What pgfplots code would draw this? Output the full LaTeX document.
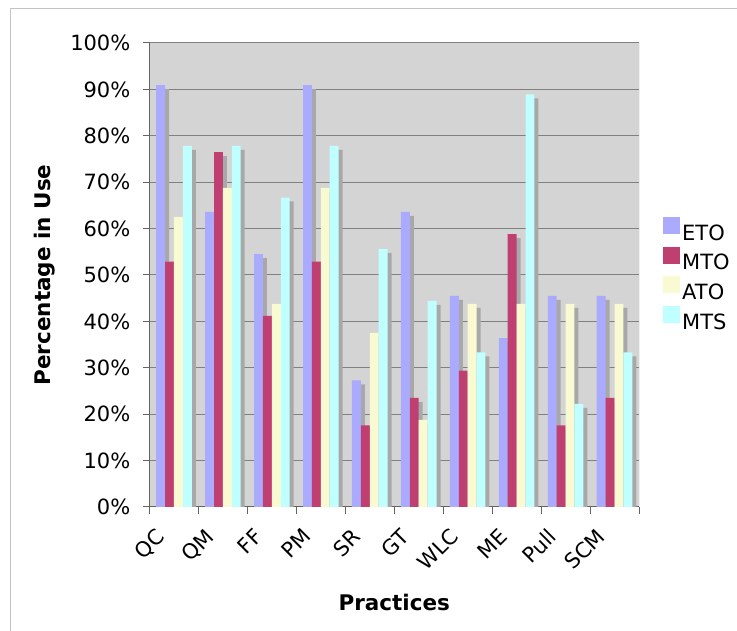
\documentclass[border=0pt]{standalone}
\usepackage{pgfplots}
\pgfplotsset{compat=1.18}
\usepackage{pgfplotstable}
\usepackage{fontspec}
\setmainfont{DejaVu Sans}
\newcommand\chartfont{\fontsize{21bp}{25bp}\selectfont}
\newcommand\labelfont{\fontsize{21.5bp}{25bp}\selectfont\bfseries}
\definecolor{cETO}{RGB}{170,170,255}
\definecolor{cMTO}{RGB}{191,64,112}
\definecolor{cATO}{RGB}{250,250,210}
\definecolor{cMTS}{RGB}{192,255,255}
\definecolor{cShadow}{RGB}{168,168,168}
\definecolor{cBg}{RGB}{212,212,212}
\definecolor{cGrid}{RGB}{128,128,128}
\definecolor{cAxis}{RGB}{100,100,100}
\definecolor{cFrame}{RGB}{195,195,195}

\pgfplotstableread{
x ETO MTO ATO MTS
0 90.9 52.9 62.5 77.8
1 63.6 76.5 68.75 77.8
2 54.5 41.2 43.75 66.7
3 90.9 52.9 68.75 77.8
4 27.3 17.6 37.5 55.6
5 63.6 23.5 18.75 44.4
6 45.5 29.4 43.75 33.3
7 36.4 58.8 43.75 88.9
8 45.5 17.6 43.75 22.2
9 45.5 23.5 43.75 33.3
}\datatable

\begin{document}
\begin{tikzpicture}[x=1bp,y=1bp]
\useasboundingbox (0,0) rectangle (737,631);
\draw[line width=1bp, cFrame] (10,0) -- (10,622) -- (737,622);
\begin{axis}[
  at={(149.5bp,124bp)}, anchor=south west,
  scale only axis, width=489.5bp, height=464bp,
  xmin=-0.5, xmax=9.5, ymin=0, ymax=100,
  axis background/.style={fill=cBg},
  axis x line*=bottom, axis y line*=left,
  axis line style={draw=cAxis, line width=1bp},
  ymajorgrids, grid style={draw=cGrid, line width=1bp},
  tick align=outside,
  major tick length=7bp, minor tick length=7bp,
  tick style={draw=cAxis, line width=1bp},
  major x tick style={draw=none},
  xtick={0,...,9},
  xticklabels={QC,QM,FF,PM,SR,GT,WLC,ME,Pull,SCM},
  minor xtick={-0.5,0.5,...,9.5},
  ytick={0,10,...,100},
  yticklabels={0\%,10\%,20\%,30\%,40\%,50\%,60\%,70\%,80\%,90\%,100\%},
  ticklabel style={font=\chartfont},
  xticklabel style={xshift=-19bp, yshift=-13bp, rotate=45, anchor=north east, inner sep=0pt},
  yticklabel style={inner sep=0pt, xshift=-12bp},
  ylabel={Percentage in Use},
  xlabel={Practices},
  every axis y label/.style={at={(axis description cs:0,0.5)}, xshift=-104.5bp, rotate=90, anchor=center, font=\labelfont},
  every axis x label/.style={at={(axis description cs:0.5,0)}, yshift=-95bp, anchor=center, font=\labelfont},
  legend style={at={(1,0.5)}, anchor=west, xshift=24bp, draw=none, fill=none, font=\chartfont, inner sep=0pt, row sep=3bp,
    nodes={inner sep=2bp}},
  /tikz/every even column/.append style={column sep=6bp},
  legend image code/.code={\fill[#1, draw=none] (0bp,-1bp) rectangle (17bp,16bp);},
  legend cell align=left,
]
\draw[cGrid, line width=1bp] (rel axis cs:0,1) -- (rel axis cs:1,1) -- (rel axis cs:1,0);
% shadows
\addplot[ybar, bar width=8.9bp, bar shift=-9.35bp, fill=cShadow, draw=none, forget plot] table[x=x, y expr=\thisrow{ETO}-0.86] {\datatable};
\addplot[ybar, bar width=8.9bp, bar shift=-0.45bp, fill=cShadow, draw=none, forget plot] table[x=x, y expr=\thisrow{MTO}-0.86] {\datatable};
\addplot[ybar, bar width=8.9bp, bar shift=8.45bp, fill=cShadow, draw=none, forget plot] table[x=x, y expr=\thisrow{ATO}-0.86] {\datatable};
\addplot[ybar, bar width=8.9bp, bar shift=17.35bp, fill=cShadow, draw=none, forget plot] table[x=x, y expr=\thisrow{MTS}-0.86] {\datatable};
% bars
\addplot[ybar, bar width=8.9bp, bar shift=-13.35bp, fill=cETO, draw=none] table[x=x, y=ETO] {\datatable};
\addplot[ybar, bar width=8.9bp, bar shift=-4.45bp, fill=cMTO, draw=none] table[x=x, y=MTO] {\datatable};
\addplot[ybar, bar width=8.9bp, bar shift=4.45bp, fill=cATO, draw=none] table[x=x, y=ATO] {\datatable};
\addplot[ybar, bar width=8.9bp, bar shift=13.35bp, fill=cMTS, draw=none] table[x=x, y=MTS] {\datatable};
\legend{ETO,MTO,ATO,MTS}
\end{axis}
\end{tikzpicture}
\end{document}
